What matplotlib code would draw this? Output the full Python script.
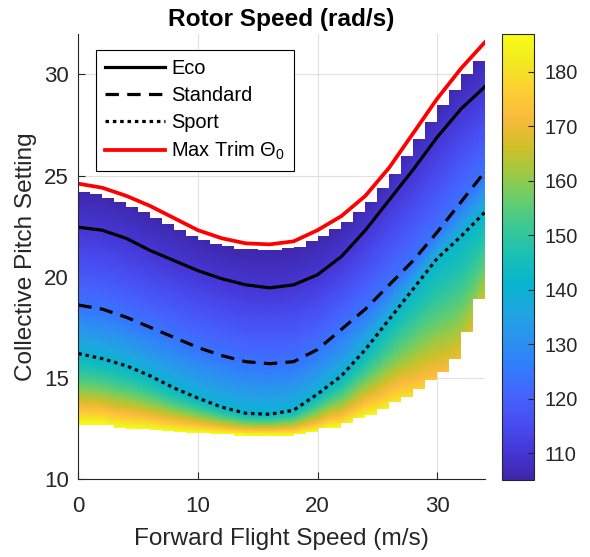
import numpy as np
import matplotlib
matplotlib.use("Agg")
import matplotlib.pyplot as plt
from matplotlib.colors import LinearSegmentedColormap

# forward flight speed nodes (m/s)
speed = np.arange(0, 35, 2)

# collective pitch along each schedule (deg), read at speed nodes
theta_max_trim = [24.6, 24.4, 24.0, 23.5, 22.9, 22.3, 21.9, 21.65, 21.6,
                  21.75, 22.3, 23.0, 24.0, 25.4, 27.1, 28.8, 30.3, 31.6]
theta_eco = [22.45, 22.3, 21.9, 21.3, 20.8, 20.3, 19.9, 19.6, 19.45,
             19.6, 20.1, 21.0, 22.3, 23.8, 25.3, 26.9, 28.3, 29.4]
theta_standard = [18.6, 18.4, 18.0, 17.5, 17.0, 16.5, 16.1, 15.8, 15.7,
                  15.8, 16.4, 17.4, 18.4, 19.6, 20.8, 22.2, 23.7, 25.2]
theta_sport = [16.2, 15.95, 15.6, 15.1, 14.5, 14.0, 13.55, 13.25, 13.2,
               13.4, 14.2, 15.1, 16.4, 17.9, 19.4, 20.9, 22.0, 23.2]

# rotor speed (rad/s) on each schedule
omega_max_trim = 105
omega_eco = 110
omega_standard = 124
omega_sport = 141

# lower edge of the trimmed region and rotor speed found on it
bound_speed = [0, 2, 3, 6, 8, 12, 14, 18, 20, 21, 22, 23, 24, 25, 26, 27,
               28, 29, 30, 31, 32, 33, 34]
bound_theta = [12.66, 12.66, 12.5, 12.4, 12.3, 12.2, 12.15, 12.15, 12.3,
               12.5, 12.5, 12.75, 13.0, 13.15, 13.45, 13.8, 14.06, 14.47,
               14.88, 15.29, 15.95, 17.26, 18.9]
bound_omega_speed = [0, 24, 26, 28, 30, 32, 34]
bound_omega = [187, 187, 185, 180, 175, 171, 168]

# parula (every 4th entry of the 64 colour table)
parula_rgb = [
    (0.2422, 0.1504, 0.6603), (0.2706, 0.2147, 0.8364), (0.2813, 0.3006, 0.9414),
    (0.2699, 0.3892, 0.9906), (0.1963, 0.4847, 0.9892), (0.1687, 0.5703, 0.9359),
    (0.1248, 0.6459, 0.8883), (0.0297, 0.7082, 0.8163), (0.0964, 0.7500, 0.7120),
    (0.2161, 0.7843, 0.5923), (0.3909, 0.8029, 0.4354), (0.6174, 0.7876, 0.2612),
    (0.8203, 0.7498, 0.1535), (0.9728, 0.7298, 0.2394), (0.9892, 0.8136, 0.1885),
    (0.9509, 0.9135, 0.1381), (0.9769, 0.9839, 0.0805),
]
parula = LinearSegmentedColormap.from_list("parula", parula_rgb, N=256)

plt.rcParams['font.family'] = ['Liberation Sans', 'DejaVu Sans']
plt.rcParams['mathtext.fontset'] = 'custom'
plt.rcParams['mathtext.rm'] = 'Liberation Sans'
plt.rcParams['mathtext.it'] = 'Liberation Sans:italic'
dark = '#262626'


def at(v, xs, ys):
    return np.interp(v, xs, ys)


# rotor speed field on a fine grid, cut to 1 m/s columns
v_edges = np.linspace(0, 34, 341)
t_edges = np.arange(10, 32.0001, 0.05)
vc = 0.5 * (v_edges[:-1] + v_edges[1:])
tc = 0.5 * (t_edges[:-1] + t_edges[1:])
omega = np.full((len(tc), len(vc)), np.nan)
for j, v in enumerate(vc):
    i = int(v)
    lo = max(at(i, bound_speed, bound_theta), at(i + 1, bound_speed, bound_theta))
    hi = min(at(i, speed, theta_max_trim), at(i + 1, speed, theta_max_trim)) - 0.28
    th = [at(v, bound_speed, bound_theta), at(v, speed, theta_sport),
          at(v, speed, theta_standard), at(v, speed, theta_eco),
          at(v, speed, theta_max_trim)]
    om = np.array([at(v, bound_omega_speed, bound_omega), omega_sport,
                   omega_standard, omega_eco, omega_max_trim], dtype=float)
    col = 1.0 / np.sqrt(np.interp(tc, th, 1.0 / om ** 2))
    inside = (tc >= lo) & (tc <= hi)
    omega[inside, j] = col[inside]

fig = plt.figure(figsize=(5.9, 5.57), dpi=100)
ax = fig.add_axes([78.3 / 590, 78 / 557, 406.7 / 590, 445 / 557])
cax = fig.add_axes([502 / 590, 77 / 557, 31.5 / 590, 446 / 557])

mesh = ax.pcolormesh(v_edges, t_edges, np.ma.masked_invalid(omega), cmap=parula,
                     vmin=105.1, vmax=186.9, shading='flat', edgecolors='none',
                     antialiased=False, rasterized=True)

ax.plot(speed, theta_eco, color='black', lw=2.3, label='Eco')
ax.plot(speed, theta_standard, color='black', lw=2.3, ls=(0, (4.2, 2.6)),
        label='Standard')
ax.plot(speed, theta_sport, color='black', lw=2.3, ls=(0, (1.1, 1.2)),
        dash_capstyle='butt', label='Sport')
ax.plot(speed, theta_max_trim, color='red', lw=2.7, label=r'Max Trim $\Theta_0$')

ax.set_xlim(0, 34)
ax.set_ylim(10, 32)
ax.set_xticks([0, 10, 20, 30])
ax.set_yticks([10, 15, 20, 25, 30])
ax.grid(True, color='#e0e0e0', lw=0.8)
ax.set_axisbelow(True)
for side in ['top', 'right']:
    ax.spines[side].set_visible(False)
for side in ['left', 'bottom']:
    ax.spines[side].set_color(dark)
    ax.spines[side].set_linewidth(0.8)
ax.tick_params(direction='in', length=5, width=0.8, colors=dark, labelsize=16)
ax.tick_params(axis='x', pad=12.5)
ax.tick_params(axis='y', pad=6.7)

ax.set_xlabel('Forward Flight Speed (m/s)', fontsize=17.6, color=dark, labelpad=8)
ax.set_ylabel('Collective Pitch Setting', fontsize=17.6, color=dark, labelpad=5)
ax.set_title('Rotor Speed (rad/s)', fontsize=17.6, fontweight='bold', pad=6)

leg = ax.legend(loc='upper left', bbox_to_anchor=(0.0435, 0.964), borderaxespad=0,
                fontsize=14.4, handlelength=3.0, handletextpad=0.32,
                labelspacing=0.4, borderpad=0.45, fancybox=False,
                framealpha=1, edgecolor='black')
leg.get_frame().set_linewidth(0.8)

cb = fig.colorbar(mesh, cax=cax)
cb.set_ticks(np.arange(110, 181, 10))
cb.ax.tick_params(direction='in', length=4, width=0.8, colors=dark,
                  labelsize=14.4, pad=8)
cb.outline.set_edgecolor(dark)
cb.outline.set_linewidth(0.8)

fig.savefig('out.png', dpi=100)
